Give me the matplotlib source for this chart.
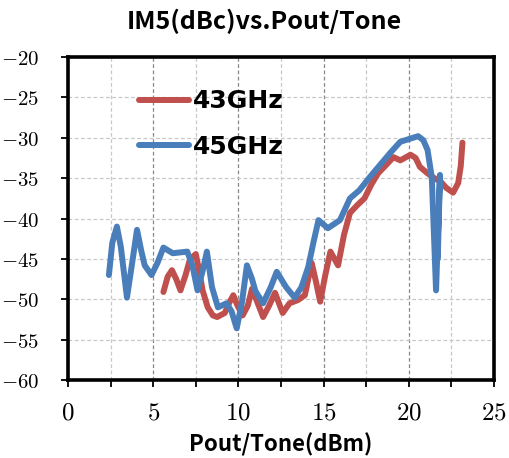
import numpy as np
import matplotlib
matplotlib.use('Agg')
import matplotlib.pyplot as plt
from matplotlib.ticker import MultipleLocator, FuncFormatter

plt.rcParams['mathtext.fontset'] = 'cm'

# data
pout_43 = [5.6, 5.85, 6.1, 6.35, 6.6, 6.9, 7.15, 7.5, 7.7, 7.9, 8.2, 8.5, 8.75, 9.2,
           9.45, 9.7, 9.95, 10.25, 10.55, 10.8, 11.1, 11.45, 11.8, 12.15, 12.4, 12.6,
           13.0, 13.5, 13.9, 14.1, 14.3, 14.55, 14.8, 15.1, 15.4, 15.85, 16.2, 16.55,
           17.0, 17.4, 17.8, 18.2, 18.7, 19.1, 19.5, 20.1, 20.4, 20.65, 21.1, 21.5,
           21.9, 22.2, 22.6, 22.9, 23.05, 23.15]
im5_43 = [-49.1, -47.2, -46.4, -47.5, -48.9, -47.0, -45.1, -44.4, -46.5, -48.9,
          -51.0, -52.0, -52.2, -51.7, -50.5, -49.5, -50.8, -52.0, -50.8, -48.7,
          -50.3, -52.2, -50.8, -49.2, -50.6, -51.7, -50.5, -50.1, -49.5, -47.5,
          -45.5, -47.8, -50.3, -47.0, -44.1, -45.8, -42.0, -39.3, -38.3, -37.5,
          -35.8, -34.4, -33.3, -32.4, -32.8, -32.1, -32.5, -33.6, -34.4, -35.0,
          -35.5, -36.2, -36.8, -35.6, -33.5, -30.6]

pout_45 = [2.4, 2.6, 2.87, 3.1, 3.46, 3.8, 4.05, 4.3, 4.5, 4.9, 5.25, 5.6, 6.15, 7.0,
           7.3, 7.6, 7.9, 8.15, 8.45, 8.8, 9.3, 9.6, 9.9, 10.2, 10.5, 10.8, 11.0,
           11.45, 11.9, 12.25, 12.8, 13.3, 13.7, 14.1, 14.4, 14.7, 15.25, 15.96,
           16.55, 17.1, 17.7, 18.3, 18.9, 19.5, 19.95, 20.55, 20.85, 21.1, 21.35,
           21.6, 21.83, 21.7]
im5_45 = [-47.0, -43.0, -41.0, -43.5, -49.8, -45.0, -41.4, -44.0, -45.8, -47.0,
          -45.5, -43.6, -44.3, -44.1, -45.8, -48.9, -46.5, -44.1, -48.5, -51.0,
          -50.5, -51.5, -53.6, -50.5, -45.8, -47.5, -49.0, -50.5, -48.5, -46.6,
          -48.5, -49.8, -48.5, -46.0, -43.0, -40.2, -41.2, -40.2, -37.5, -36.5,
          -34.9, -33.4, -31.9, -30.5, -30.2, -29.8, -30.3, -31.5, -34.9, -48.9,
          -34.6, -45.0]

labels = ['43GHz', '45GHz']
colors = ['#C0504D', '#4A7EBB']

fig = plt.figure(figsize=(5.09, 4.58), dpi=100)
ax = fig.add_axes([0.1336, 0.1703, 0.8369, 0.7052])

ax.plot(pout_43, im5_43, color=colors[0], lw=4.3, solid_joinstyle='round',
        solid_capstyle='round', label=labels[0], zorder=3)
ax.plot(pout_45, im5_45, color=colors[1], lw=4.3, solid_joinstyle='round',
        solid_capstyle='round', label=labels[1], zorder=3)

ax.set_xlim(0, 25)
ax.set_ylim(-60, -20)
ax.xaxis.set_major_locator(MultipleLocator(5))
ax.xaxis.set_minor_locator(MultipleLocator(2.5))
ax.yaxis.set_major_locator(MultipleLocator(5))

fmt = FuncFormatter(lambda v, p: '$%g$' % v)
ax.xaxis.set_major_formatter(fmt)
ax.yaxis.set_major_formatter(fmt)

ax.grid(True, which='major', axis='y', color='#c8c8c8', ls=(0, (3, 2)), lw=0.9)
ax.grid(True, which='major', axis='x', color='#888888', ls=(0, (3, 2)), lw=0.9)
ax.grid(True, which='minor', axis='x', color='#c8c8c8', ls=(0, (3, 2)), lw=0.9)
ax.set_axisbelow(True)

for s in ax.spines.values():
    s.set_linewidth(2.6)

ax.tick_params(axis='x', which='both', direction='out', length=5, width=1.3,
               labelsize=18, pad=10)
ax.tick_params(axis='y', which='major', direction='out', length=5, width=1.3,
               labelsize=15, pad=16)

fig.text(0.52, 0.954, 'IM5(dBc)vs.Pout/Tone', ha='center', va='center',
         fontsize=18, fontweight='heavy', family=['Noto Sans CJK SC', 'DejaVu Sans'])
ax.set_xlabel('Pout/Tone(dBm)', fontsize=16, fontweight='heavy',
              family=['Noto Sans CJK SC', 'DejaVu Sans'], labelpad=6)

leg = ax.legend(loc='upper left', bbox_to_anchor=(0.166, 0.90), frameon=False,
                borderpad=0, borderaxespad=0, handlelength=2.0, handletextpad=0.15,
                labelspacing=0.85, prop={'family': 'DejaVu Sans', 'weight': 'bold',
                                         'size': 18})
for t in leg.get_texts():
    t.set_fontweight('bold')

fig.savefig('out.png', dpi=100)
